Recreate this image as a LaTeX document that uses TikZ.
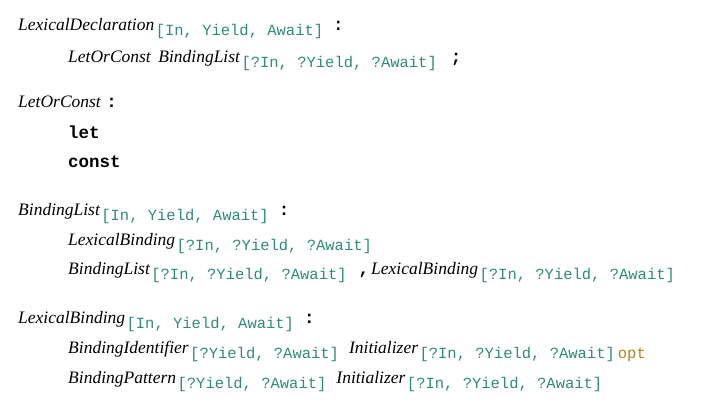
\documentclass[tikz,border=0pt]{standalone}
\usepackage{fontspec}
\setmainfont{Liberation Serif}
\setmonofont{Liberation Mono}
\definecolor{paramgreen}{HTML}{2E8B7A}
\definecolor{optgold}{HTML}{A8841A}
\newcommand{\nterm}[1]{{\itshape #1}\hspace{1.5pt}}
\newcommand{\params}[1]{\raisebox{-5pt}{\fontsize{15.5}{17}\selectfont\ttfamily\color{paramgreen}#1}}
\newcommand{\kw}[1]{{\fontsize{17.5}{19}\selectfont\ttfamily\bfseries #1}}
\tikzset{
  rule/.style={anchor=base west,inner sep=0pt,font=\fontsize{17.5}{19}\selectfont}
}
\begin{document}
\begin{tikzpicture}[x=1pt,y=-1pt]
  \useasboundingbox (0,0) rectangle (705,405);
  % LexicalDeclaration
  \node[rule] (decl) at (18,30) {\nterm{LexicalDeclaration}\params{[In, Yield, Await]}\hspace{10pt}\kw{:}};
  \node[rule] (declA) at (68,62) {\nterm{LetOrConst}\hspace{6pt}\nterm{BindingList}\params{[?In, ?Yield, ?Await]}\hspace{14pt}\kw{;}};
  % LetOrConst
  \node[rule] (loc) at (18,107) {\nterm{LetOrConst}\hspace{4pt}\kw{:}};
  \node[rule] (locA) at (68,138) {\kw{let}};
  \node[rule] (locB) at (68,167) {\kw{const}};
  % BindingList
  \node[rule] (blist) at (18,215) {\nterm{BindingList}\params{[In, Yield, Await]}\hspace{10pt}\kw{:}};
  \node[rule] (blistA) at (68,245) {\nterm{LexicalBinding}\params{[?In, ?Yield, ?Await]}};
  \node[rule] (blistB) at (68,274) {\nterm{BindingList}\params{[?In, ?Yield, ?Await]}\hspace{12pt}\kw{,}\hspace{2pt}\nterm{LexicalBinding}\params{[?In, ?Yield, ?Await]}};
  % LexicalBinding
  \node[rule] (lbind) at (18,323) {\nterm{LexicalBinding}\params{[In, Yield, Await]}\hspace{10pt}\kw{:}};
  \node[rule] (lbindA) at (68,353) {\nterm{BindingIdentifier}\params{[?Yield, ?Await]}\hspace{10pt}\nterm{Initializer}\params{[?In, ?Yield, ?Await]}\hspace{3pt}\params{\color{optgold}opt}};
  \node[rule] (lbindB) at (68,383) {\nterm{BindingPattern}\params{[?Yield, ?Await]}\hspace{10pt}\nterm{Initializer}\params{[?In, ?Yield, ?Await]}};
\end{tikzpicture}
\end{document}
